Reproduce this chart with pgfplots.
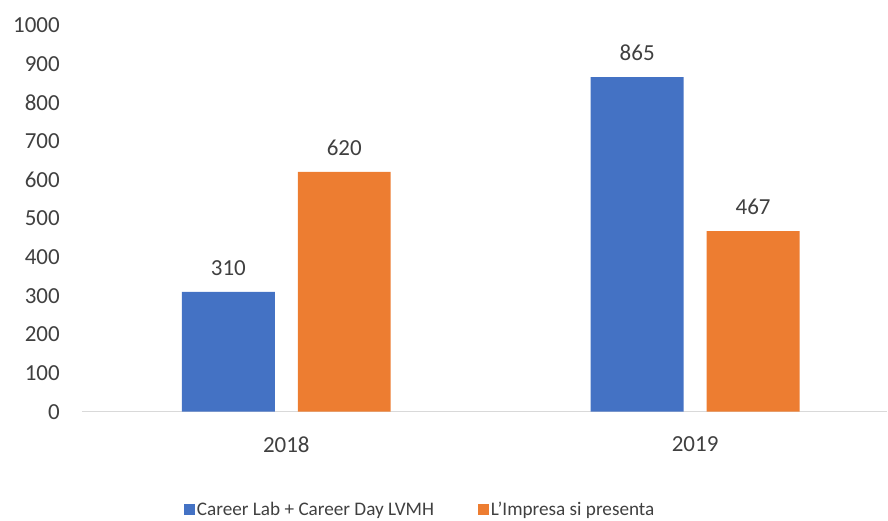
\documentclass[border=0pt]{standalone}
\usepackage{fontspec}
\setmainfont{Carlito}[Ligatures=ResetAll]
\usepackage{pgfplots}
\pgfplotsset{compat=1.18}
\definecolor{serieA}{HTML}{4472C4}
\definecolor{serieB}{HTML}{ED7D31}
\definecolor{txt}{HTML}{404040}
\definecolor{axisgray}{HTML}{D9D9D9}
\begin{document}
\begin{tikzpicture}
\begin{axis}[
    scale only axis,
    width=806pt, height=387pt,
    xmin=-0.5, xmax=1.47,
    ymin=0, ymax=1000,
    ytick={0,100,...,1000},
    xtick={0,1}, xticklabels={2018,2019},
    /pgf/number format/assume math mode=true,
    /pgf/number format/1000 sep={},
    axis x line*=bottom, axis y line*=left,
    x axis line style={draw=axisgray, line width=1.5pt, -},
    y axis line style={draw=none},
    major tick length=0pt,
    tick style={draw=none},
    tick label style={font=\fontsize{23}{27}\selectfont, text=txt, inner sep=0pt},
    yticklabel style={xshift=-22pt},
    xticklabel style={yshift=-25pt},
    ybar, bar width=93pt,
    nodes near coords,
    nodes near coords style={font=\fontsize{23}{27}\selectfont, text=txt, anchor=south, inner sep=0pt, yshift=16pt},
    legend style={at={(0.42,-0.253)}, anchor=center, draw=none,
        font=\fontsize{19.2}{23}\selectfont, text=txt,
        /tikz/every even column/.append style={column sep=42pt}},
    legend columns=2,
    legend image code/.code={\fill[#1] (-4pt,-5.5pt) rectangle (7pt,5.5pt);},
]
\addplot[fill=serieA, draw=none, bar shift=-58pt] coordinates {(0,310) (1,865)};
\addplot[fill=serieB, draw=none, bar shift=58pt] coordinates {(0,620) (1,467)};
\legend{Career Lab + Career Day LVMH, L'Impresa si presenta}
\end{axis}
\path[use as bounding box] (-82pt,-107pt) rectangle (806pt,412pt);
\end{tikzpicture}
\end{document}
